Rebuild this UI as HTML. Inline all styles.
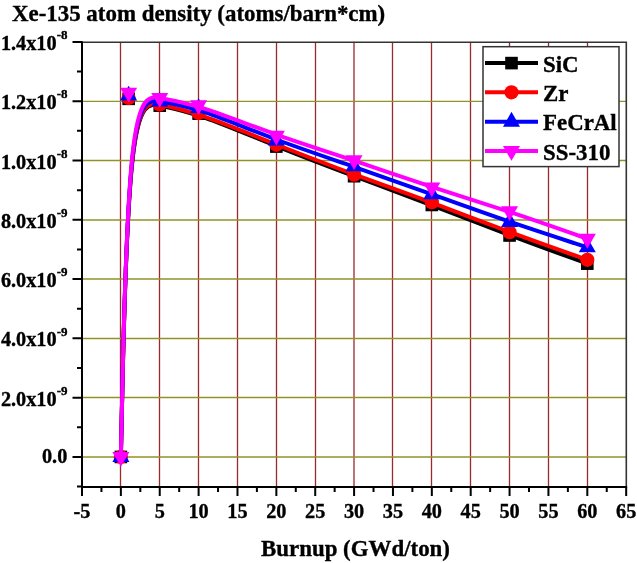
<!DOCTYPE html>
<html><head><meta charset="utf-8"><style>
html,body{margin:0;padding:0;background:#fff;width:637px;height:563px;overflow:hidden}
svg{display:block}
text{font-family:"Liberation Serif","Times New Roman",serif;font-weight:bold;fill:#000;stroke:#000;stroke-width:0.35px}
.t{font-size:22.9px}
.n{font-size:20.3px}
.s{font-size:13px}
</style></head><body>
<svg width="637" height="563" viewBox="0 0 637 563">
<rect width="637" height="563" fill="#fff"/>
<path d="M120.5 42.2V487M159.5 42.2V487M198.5 42.2V487M237.5 42.2V487M276.5 42.2V487M315.5 42.2V487M354 42.2V487M392.5 42.2V487M431.5 42.2V487M470.5 42.2V487M509.5 42.2V487M548.5 42.2V487M587.5 42.2V487" stroke="#9b2a2e" stroke-width="1.3" fill="none"/>
<path d="M82 457H626.3M82 397.5H626.3M82 338.5H626.3M82 279H626.3M82 220H626.3M82 160.5H626.3M82 101.4H626.3" stroke="#929228" stroke-width="1.3" fill="none"/>
<path d="M120.87 456.95C120.87 456.95 120.87 456.95 122.17 397.26C123.46 337.58 126.05 218.21 132.53 159.66C139.01 101.11 149.37 103.38 161.04 105.85C172.7 108.32 185.65 110.99 205.09 117.81C224.52 124.63 250.44 135.6 276.35 146.02C302.26 156.45 328.18 166.33 354.09 176.06C380 185.8 405.92 195.38 431.83 205.26C457.74 215.15 483.66 225.32 509.57 235.11C535.48 244.89 561.4 254.28 574.35 258.97C587.31 263.66 587.31 263.66 587.31 263.66" stroke="#000000" stroke-width="4" fill="none" stroke-linejoin="round"/>
<rect x="114.57" y="450.65" width="12.6" height="12.6" fill="#000000"/>
<rect x="122.34" y="92.54" width="12.6" height="12.6" fill="#000000"/>
<rect x="153.44" y="99.36" width="12.6" height="12.6" fill="#000000"/>
<rect x="192.31" y="107.36" width="12.6" height="12.6" fill="#000000"/>
<rect x="270.05" y="140.27" width="12.6" height="12.6" fill="#000000"/>
<rect x="347.79" y="169.91" width="12.6" height="12.6" fill="#000000"/>
<rect x="425.53" y="198.67" width="12.6" height="12.6" fill="#000000"/>
<rect x="503.27" y="229.2" width="12.6" height="12.6" fill="#000000"/>
<rect x="581.01" y="257.36" width="12.6" height="12.6" fill="#000000"/>
<path d="M120.87 456.95C120.87 456.95 120.87 456.95 122.17 397.12C123.46 337.28 126.05 217.62 132.53 158.87C139.01 100.12 149.37 102.3 161.04 104.82C172.7 107.34 185.65 110.2 205.09 116.92C224.52 123.64 250.44 134.21 276.35 144.49C302.26 154.77 328.18 164.75 354.09 174.33C380 183.92 405.92 193.11 431.83 202.69C457.74 212.28 483.66 222.26 509.57 231.85C535.48 241.43 561.4 250.62 574.35 255.22C587.31 259.81 587.31 259.81 587.31 259.81" stroke="#ff0000" stroke-width="4" fill="none" stroke-linejoin="round"/>
<circle cx="120.87" cy="456.95" r="7.1" fill="#ff0000"/>
<circle cx="128.64" cy="97.95" r="7.1" fill="#ff0000"/>
<circle cx="159.74" cy="104.47" r="7.1" fill="#ff0000"/>
<circle cx="198.61" cy="113.07" r="7.1" fill="#ff0000"/>
<circle cx="276.35" cy="144.79" r="7.1" fill="#ff0000"/>
<circle cx="354.09" cy="174.73" r="7.1" fill="#ff0000"/>
<circle cx="431.83" cy="202.3" r="7.1" fill="#ff0000"/>
<circle cx="509.57" cy="232.24" r="7.1" fill="#ff0000"/>
<circle cx="587.31" cy="259.81" r="7.1" fill="#ff0000"/>
<path d="M120.87 456.95C120.87 456.95 120.87 456.95 122.17 396.72C123.46 336.49 126.05 216.03 132.53 156.79C139.01 97.55 149.37 99.53 161.04 101.61C172.7 103.68 185.65 105.85 205.09 112.38C224.52 118.9 250.44 129.77 276.35 139.5C302.26 149.23 328.18 157.83 354.09 166.77C380 175.72 405.92 185.01 431.83 194.3C457.74 203.58 483.66 212.87 509.57 221.72C535.48 230.56 561.4 238.96 574.35 243.16C587.31 247.36 587.31 247.36 587.31 247.36" stroke="#0000ff" stroke-width="4" fill="none" stroke-linejoin="round"/>
<path d="M120.87 447.08L129.37 461.88L112.37 461.88Z" fill="#0000ff"/>
<path d="M128.64 85.71L137.14 100.51L120.14 100.51Z" fill="#0000ff"/>
<path d="M159.74 91.64L168.24 106.44L151.24 106.44Z" fill="#0000ff"/>
<path d="M198.61 98.16L207.11 112.96L190.11 112.96Z" fill="#0000ff"/>
<path d="M276.35 130.77L284.85 145.57L267.85 145.57Z" fill="#0000ff"/>
<path d="M354.09 156.56L362.59 171.36L345.59 171.36Z" fill="#0000ff"/>
<path d="M431.83 184.43L440.33 199.23L423.33 199.23Z" fill="#0000ff"/>
<path d="M509.57 212.29L518.07 227.09L501.07 227.09Z" fill="#0000ff"/>
<path d="M587.31 237.49L595.81 252.29L578.81 252.29Z" fill="#0000ff"/>
<path d="M120.87 456.95C120.87 456.95 120.87 456.95 122.17 396.23C123.46 335.5 126.05 214.06 132.53 154.23C139.01 94.39 149.37 96.17 161.04 98.25C172.7 100.32 185.65 102.69 205.09 108.97C224.52 115.24 250.44 125.42 276.35 134.61C302.26 143.8 328.18 152 354.09 160.65C380 169.29 405.92 178.39 431.83 186.88C457.74 195.38 483.66 203.29 509.57 211.84C535.48 220.38 561.4 229.57 574.35 234.17C587.31 238.76 587.31 238.76 587.31 238.76" stroke="#ff00ff" stroke-width="4" fill="none" stroke-linejoin="round"/>
<path d="M112.37 452.02L129.37 452.02L120.87 466.82Z" fill="#ff00ff"/>
<path d="M120.14 87.68L137.14 87.68L128.64 102.48Z" fill="#ff00ff"/>
<path d="M151.24 93.02L168.24 93.02L159.74 107.82Z" fill="#ff00ff"/>
<path d="M190.11 100.13L207.11 100.13L198.61 114.93Z" fill="#ff00ff"/>
<path d="M267.85 130.66L284.85 130.66L276.35 145.46Z" fill="#ff00ff"/>
<path d="M345.59 155.27L362.59 155.27L354.09 170.07Z" fill="#ff00ff"/>
<path d="M423.33 182.54L440.33 182.54L431.83 197.34Z" fill="#ff00ff"/>
<path d="M501.07 206.26L518.07 206.26L509.57 221.06Z" fill="#ff00ff"/>
<path d="M578.81 233.83L595.81 233.83L587.31 248.63Z" fill="#ff00ff"/>
<path d="M82 42.2H626.3V487" stroke="#333" stroke-width="1.6" fill="none"/>
<path d="M82 41.2V487H627.1" stroke="#000" stroke-width="2" fill="none"/>
<path d="M82 487v9M120.87 487v9M159.74 487v9M198.61 487v9M237.48 487v9M276.35 487v9M315.22 487v9M354.09 487v9M392.96 487v9M431.83 487v9M470.7 487v9M509.57 487v9M548.44 487v9M587.31 487v9M626.18 487v9M101.44 487v5M140.31 487v5M179.18 487v5M218.04 487v5M256.91 487v5M295.78 487v5M334.65 487v5M373.52 487v5M412.39 487v5M451.26 487v5M490.13 487v5M529 487v5M567.88 487v5M606.75 487v5M82 456.95h-9.5M82 397.66h-9.5M82 338.37h-9.5M82 279.08h-9.5M82 219.79h-9.5M82 160.5h-9.5M82 101.21h-9.5M82 41.92h-9.5M82 486.59h-5M82 427.31h-5M82 368.01h-5M82 308.73h-5M82 249.44h-5M82 190.14h-5M82 130.86h-5M82 71.56h-5" stroke="#000" stroke-width="2" fill="none"/>
<rect x="483" y="46.7" width="136" height="119.9" fill="#fff" stroke="#333" stroke-width="1.5"/>
<path d="M485 63.1H538" stroke="#000000" stroke-width="4"/>
<rect x="505.2" y="56.8" width="12.6" height="12.6" fill="#000000"/>
<text x="543" y="71.6" class="t">SiC</text>
<path d="M485 92.3H538" stroke="#ff0000" stroke-width="4"/>
<circle cx="511.5" cy="92.3" r="7.1" fill="#ff0000"/>
<text x="543" y="100.8" class="t">Zr</text>
<path d="M485 121.7H538" stroke="#0000ff" stroke-width="4"/>
<path d="M511.5 111.83L520 126.63L503 126.63Z" fill="#0000ff"/>
<text x="543" y="130.2" class="t">FeCrAl</text>
<path d="M485 151.0H538" stroke="#ff00ff" stroke-width="4"/>
<path d="M503 146.07L520 146.07L511.5 160.87Z" fill="#ff00ff"/>
<text x="543" y="159.5" class="t">SS-310</text>
<text x="67.3" y="463.25" class="n" text-anchor="end">0.0</text>
<text x="67.5" y="405.66" class="n" text-anchor="end">2.0x10<tspan dy="-10.8" class="s">-9</tspan></text>
<text x="67.5" y="346.37" class="n" text-anchor="end">4.0x10<tspan dy="-10.8" class="s">-9</tspan></text>
<text x="67.5" y="287.08" class="n" text-anchor="end">6.0x10<tspan dy="-10.8" class="s">-9</tspan></text>
<text x="67.5" y="227.79" class="n" text-anchor="end">8.0x10<tspan dy="-10.8" class="s">-9</tspan></text>
<text x="67.5" y="168.5" class="n" text-anchor="end">1.0x10<tspan dy="-10.8" class="s">-8</tspan></text>
<text x="67.5" y="109.21" class="n" text-anchor="end">1.2x10<tspan dy="-10.8" class="s">-8</tspan></text>
<text x="67.5" y="49.92" class="n" text-anchor="end">1.4x10<tspan dy="-10.8" class="s">-8</tspan></text>
<text x="82" y="517.6" class="n" text-anchor="middle">-5</text>
<text x="120.87" y="517.6" class="n" text-anchor="middle">0</text>
<text x="159.74" y="517.6" class="n" text-anchor="middle">5</text>
<text x="198.61" y="517.6" class="n" text-anchor="middle">10</text>
<text x="237.48" y="517.6" class="n" text-anchor="middle">15</text>
<text x="276.35" y="517.6" class="n" text-anchor="middle">20</text>
<text x="315.22" y="517.6" class="n" text-anchor="middle">25</text>
<text x="354.09" y="517.6" class="n" text-anchor="middle">30</text>
<text x="392.96" y="517.6" class="n" text-anchor="middle">35</text>
<text x="431.83" y="517.6" class="n" text-anchor="middle">40</text>
<text x="470.7" y="517.6" class="n" text-anchor="middle">45</text>
<text x="509.57" y="517.6" class="n" text-anchor="middle">50</text>
<text x="548.44" y="517.6" class="n" text-anchor="middle">55</text>
<text x="587.31" y="517.6" class="n" text-anchor="middle">60</text>
<text x="626.18" y="517.6" class="n" text-anchor="middle">65</text>
<text x="12" y="21.1" class="t">Xe-135 atom density (atoms/barn*cm)</text>
<text x="355.5" y="556" class="t" text-anchor="middle">Burnup (GWd/ton)</text>
</svg>
</body></html>
